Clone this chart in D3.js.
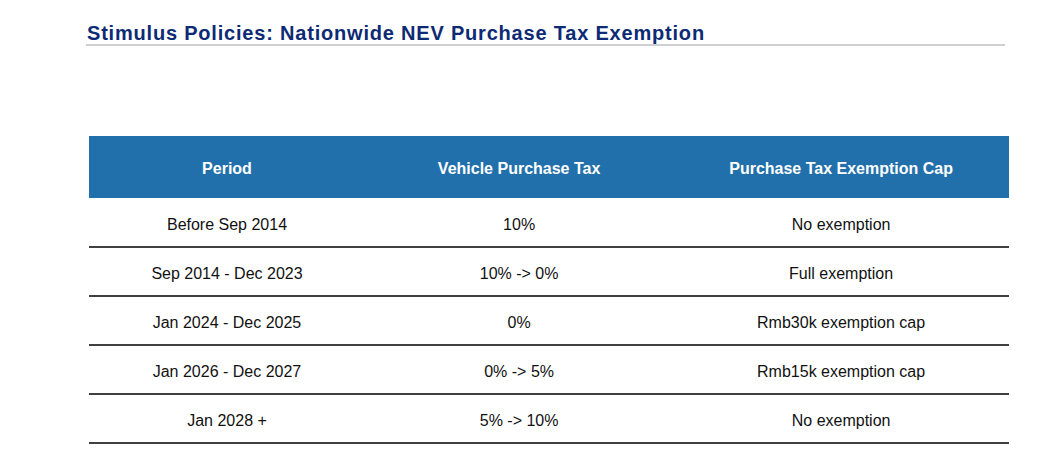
<!DOCTYPE html>
<html lang="en">
<head>
    <meta charset="UTF-8">
    <title>NEV Purchase Tax Exemption</title>
    <script type="text/javascript" src="https://cdn.jsdelivr.net/npm/d3@7/dist/d3.min.js"></script>
    <style>
        body { margin: 0; background: #fff; }
        svg text { font-family: "Liberation Sans", Arial, sans-serif; }
    </style>
</head>
<body>
<script type="text/javascript">
    let width = 1059;
    let height = 465;

    let title = 'Stimulus Policies: Nationwide NEV Purchase Tax Exemption';
    let headers = ['Period', 'Vehicle Purchase Tax', 'Purchase Tax Exemption Cap'];
    let periods = ['Before Sep 2014', 'Sep 2014 - Dec 2023', 'Jan 2024 - Dec 2025', 'Jan 2026 - Dec 2027', 'Jan 2028 +'];
    let taxRates = ['10%', '10% -> 0%', '0%', '0% -> 5%', '5% -> 10%'];
    let caps = ['No exemption', 'Full exemption', 'Rmb30k exemption cap', 'Rmb15k exemption cap', 'No exemption'];

    let rows = periods.map(function (p, i) {
        return [p, taxRates[i], caps[i]];
    });

    let svg = d3.select('body')
        .append('svg')
        .attr('width', width)
        .attr('height', height);

    // title + rule
    svg.append('text')
        .attr('x', 87)
        .attr('y', 39.5)
        .attr('fill', '#0d2a75')
        .attr('font-size', 20)
        .attr('font-weight', 'bold')
        .attr('letter-spacing', '0.8px')
        .text(title);

    svg.append('line')
        .attr('x1', 86).attr('x2', 1005)
        .attr('y1', 45).attr('y2', 45)
        .attr('stroke', '#a0a0a0')
        .attr('stroke-width', 1);

    // table geometry
    let left = 89, right = 1009;
    let headTop = 136, headBottom = 198, tableBottom = 443;
    let colFrac = [0, 0.3, 0.635, 1];
    let x = d3.scaleLinear().domain([0, 1]).range([left, right]);
    let y = d3.scaleBand()
        .domain(d3.range(rows.length))
        .range([headBottom, tableBottom]);

    let colCenter = function (j) {
        return (x(colFrac[j]) + x(colFrac[j + 1])) / 2;
    };

    // header band
    svg.append('rect')
        .attr('x', left)
        .attr('y', headTop)
        .attr('width', right - left)
        .attr('height', headBottom - headTop)
        .attr('fill', '#2270ab');

    svg.selectAll('text.head')
        .data(headers)
        .enter()
        .append('text')
        .attr('class', 'head')
        .attr('x', function (d, j) { return colCenter(j); })
        .attr('y', (headTop + headBottom) / 2 + 1)
        .attr('dy', '0.35em')
        .attr('text-anchor', 'middle')
        .attr('fill', '#fff')
        .attr('font-size', 16)
        .attr('font-weight', 'bold')
        .text(function (d) { return d; });

    // body rows
    let row = svg.selectAll('g.row')
        .data(rows)
        .enter()
        .append('g')
        .attr('class', 'row')
        .attr('transform', function (d, i) { return 'translate(0,' + y(i) + ')'; });

    row.selectAll('text')
        .data(function (d) { return d; })
        .enter()
        .append('text')
        .attr('x', function (d, j) { return colCenter(j); })
        .attr('y', y.bandwidth() / 2 + 1.5)
        .attr('dy', '0.35em')
        .attr('text-anchor', 'middle')
        .attr('fill', '#111')
        .attr('font-size', 16)
        .text(function (d) { return d; });

    row.append('line')
        .attr('x1', left).attr('x2', right)
        .attr('y1', y.bandwidth()).attr('y2', y.bandwidth())
        .attr('stroke', '#000')
        .attr('stroke-width', 1.3);
</script>
</body>
</html>
